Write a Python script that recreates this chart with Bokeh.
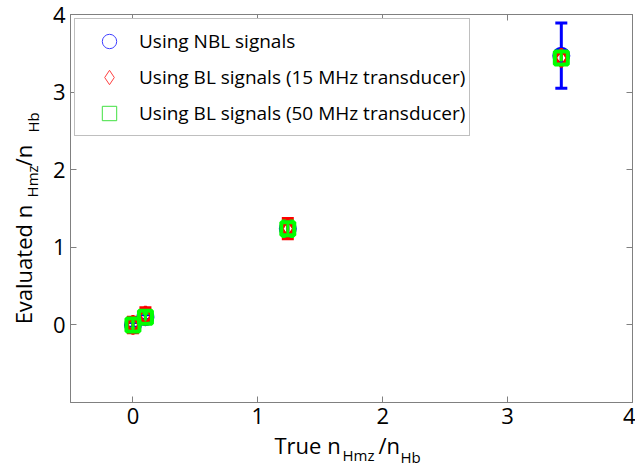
import math
from bokeh.plotting import figure
from bokeh.layouts import column, row
from bokeh.models import Legend, LegendItem, LinearAxis, Range1d, FixedTicker
from bokeh.core.properties import value
from bokeh.embed import file_html
from bokeh.resources import INLINE

# ---- data ----
true_ratio = [0.0, 0.1, 1.24, 3.43]
nbl_y = [0.0, 0.10, 1.24, 3.47]
nbl_err = [0.03, 0.03, 0.08, 0.42]
bl15_y = [0.0, 0.12, 1.24, 3.44]
bl15_err = [0.10, 0.10, 0.13, 0.06]
bl50_y = [0.0, 0.10, 1.24, 3.44]
bl50_err = [0.05, 0.05, 0.10, 0.08]
x_ticks = [0, 1, 2, 3, 4]
y_ticks = [0, 1, 2, 3, 4]
series_names = ["Using NBL signals",
                "Using BL signals (15 MHz transducer)",
                "Using BL signals (50 MHz transducer)"]
title_main = ["True n", "/n"]
title_sub = ["Hmz", "Hb"]
ytitle_main = ["Evaluated n", "/n"]

FONT = "Open Sans"
GRAY = "#808080"

LEFT_W, MAIN_H, BOTTOM_H, TOTAL_W = 44, 437, 34, 635

p = figure(frame_width=562, frame_height=388, title=None,
           x_range=Range1d(-0.5, 4), y_range=Range1d(-1, 4),
           output_backend="svg", toolbar_location=None,
           min_border_left=26, min_border_right=3,
           min_border_top=14, min_border_bottom=35)
p.grid.visible = False
p.outline_line_color = GRAY
p.background_fill_color = "white"
p.border_fill_color = "white"

for ax in p.xaxis + p.yaxis:
    ax.ticker = FixedTicker(ticks=x_ticks if ax in p.xaxis else y_ticks)
    ax.major_tick_in = 6
    ax.major_tick_out = 0
    ax.minor_tick_line_color = None
    ax.axis_line_color = GRAY
    ax.major_tick_line_color = GRAY
    ax.major_label_text_font = FONT
    ax.major_label_text_font_size = "22px"
    ax.major_label_text_color = "black"
    ax.major_label_standoff = 5

for loc, tks in (("above", x_ticks), ("right", y_ticks)):
    a = LinearAxis(ticker=FixedTicker(ticks=tks))
    a.major_tick_in = 6
    a.major_tick_out = 0
    a.minor_tick_line_color = None
    a.axis_line_color = GRAY
    a.major_tick_line_color = GRAY
    a.major_label_text_font_size = "0px"
    a.major_label_text_color = None
    a.major_label_standoff = 0
    p.add_layout(a, loc)

# thin markers (used by the legend; mostly hidden under the thick ones)
l1 = p.scatter(x=true_ratio, y=nbl_y, marker="circle", size=14, fill_color=None,
               line_color="#4040ff", line_width=1)
l2 = p.scatter(x=true_ratio, y=bl15_y, marker="diamond", size=14, fill_color=None,
               line_color="#ff4040", line_width=1)
l3 = p.scatter(x=true_ratio, y=bl50_y, marker="square", size=14, fill_color=None,
               line_color="#40e040", line_width=1)

def errorbars(y, err, color, lw):
    lo = [a - b for a, b in zip(y, err)]
    hi = [a + b for a, b in zip(y, err)]
    p.segment(x0=true_ratio, y0=lo, x1=true_ratio, y1=hi, line_color=color, line_width=lw)
    p.scatter(x=true_ratio, y=lo, marker="dash", size=12, line_color=color, line_width=lw)
    p.scatter(x=true_ratio, y=hi, marker="dash", size=12, line_color=color, line_width=lw)

errorbars(nbl_y, nbl_err, "#0000ff", 3)
errorbars(bl15_y, bl15_err, "#ff0000", 3)
errorbars(bl50_y, bl50_err, "#00ff00", 3)

# thick markers
p.scatter(x=true_ratio, y=nbl_y, marker="circle", size=15, fill_color=None,
          line_color="#0000ff", line_width=3)
p.scatter(x=true_ratio, y=bl15_y, marker="diamond", size=18, fill_color=None,
          line_color="#ff0000", line_width=3)
p.scatter(x=true_ratio, y=bl50_y, marker="square", size=13, fill_color=None,
          line_color="#00ff00", line_width=4)

legend = Legend(items=[LegendItem(label=series_names[0], renderers=[l1]),
                       LegendItem(label=series_names[1], renderers=[l2]),
                       LegendItem(label=series_names[2], renderers=[l3])],
                location="top_left", margin=4, padding=4, spacing=-13,
                glyph_width=60, glyph_height=36, label_height=23,
                label_standoff=0,
                label_text_font=FONT, label_text_font_size="19px",
                label_text_color="black",
                border_line_color=GRAY, border_line_width=1,
                background_fill_color="white", background_fill_alpha=1.0)
p.add_layout(legend, "center")

# ---- title strips (pixel coordinates, y measured upward) ----
def strip(w, h):
    f = figure(width=w, height=h, title=None,
               x_range=Range1d(0, w), y_range=Range1d(0, h),
               output_backend="svg", toolbar_location=None,
               x_axis_location=None, y_axis_location=None,
               min_border=0, outline_line_color=None)
    f.grid.visible = False
    f.background_fill_color = "white"
    f.border_fill_color = "white"
    return f

left = strip(LEFT_W, MAIN_H)
bottom = strip(TOTAL_W, BOTTOM_H)

def txt(fig, texts, xs, ys, size, angle=0.0):
    fig.text(x=xs, y=ys, text=texts, angle=angle, text_font=value(FONT),
             text_font_size=size, text_color="black",
             text_baseline="alphabetic", text_align="left")

# x-axis title: True n_{Hmz}/n_{Hb}
txt(bottom, title_main, [274, 378], [27, 27], "22px")
txt(bottom, title_sub, [342, 400], [17, 15], "15px")
# y-axis title: Evaluated n_{Hmz}/n_{Hb}
txt(left, ytitle_main, [22, 22], [88, 266], "22px", math.pi / 2)
txt(left, title_sub, [31, 32], [231, 304], "15px", math.pi / 2)

layout = column(row(left, p, spacing=0), bottom, spacing=0)
open("out.html", "w").write(file_html(layout, INLINE))
